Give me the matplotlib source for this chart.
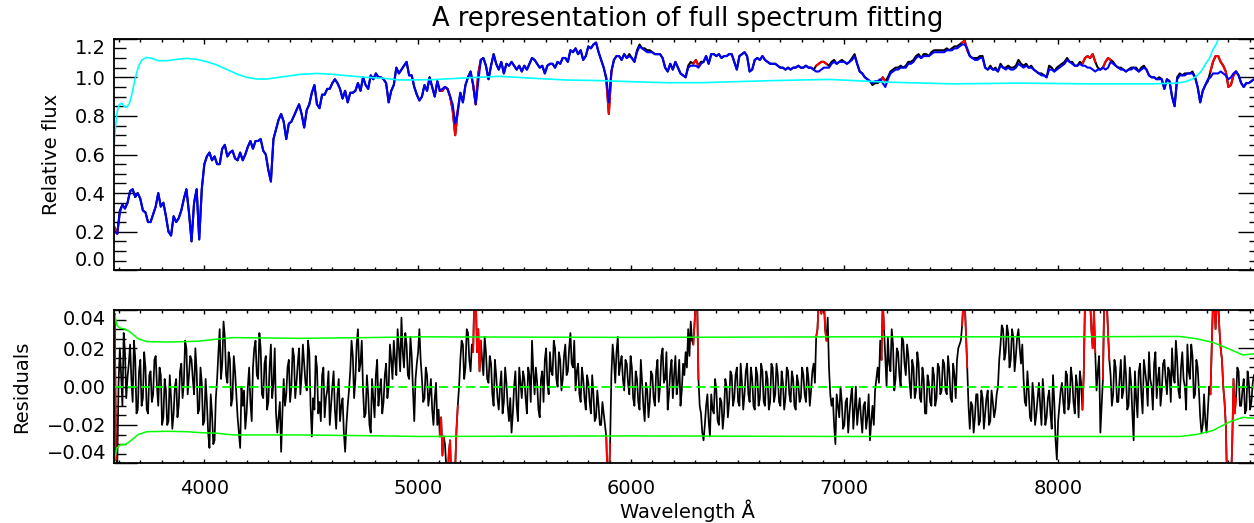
import numpy as np
import matplotlib
matplotlib.use("Agg")
from matplotlib import pyplot as plt
from matplotlib.ticker import MultipleLocator

# spectrum, model and residuals sampled on a 12 A grid starting at 3580 A
wave_start = 3580
wave_step = 12

flux = [
    0.22, 0.19, 0.31, 0.34, 0.32, 0.35, 0.41, 0.42, 0.38, 0.40,
    0.37, 0.31, 0.30, 0.25, 0.25, 0.29, 0.33, 0.40, 0.33, 0.35,
    0.28, 0.20, 0.18, 0.28, 0.25, 0.27, 0.31, 0.37, 0.42, 0.30,
    0.15, 0.35, 0.42, 0.16, 0.42, 0.55, 0.59, 0.61, 0.57, 0.59,
    0.55, 0.55, 0.63, 0.65, 0.59, 0.61, 0.62, 0.58, 0.57, 0.61,
    0.57, 0.60, 0.64, 0.67, 0.63, 0.67, 0.67, 0.68, 0.62, 0.60,
    0.52, 0.46, 0.68, 0.73, 0.78, 0.81, 0.77, 0.68, 0.76, 0.77,
    0.80, 0.83, 0.86, 0.81, 0.74, 0.83, 0.86, 0.92, 0.96, 0.86,
    0.84, 0.91, 0.91, 0.94, 0.94, 0.97, 0.99, 0.97, 0.94, 0.89,
    0.93, 0.87, 0.92, 0.92, 0.93, 0.97, 0.93, 1.00, 0.96, 0.94,
    1.01, 0.99, 1.02, 1.00, 1.00, 0.99, 0.97, 0.87, 0.93, 0.96,
    1.05, 1.02, 1.04, 1.06, 1.08, 1.01, 1.01, 0.95, 0.91, 0.88,
    0.90, 0.96, 0.93, 1.00, 0.95, 0.90, 0.98, 0.93, 0.93, 0.95,
    0.94, 0.90, 0.83, 0.70, 0.83, 0.92, 0.87, 0.96, 1.00, 1.03,
    0.96, 0.86, 1.02, 1.09, 1.10, 1.06, 0.99, 1.06, 1.12, 1.07,
    1.04, 1.08, 1.02, 1.07, 1.06, 1.08, 1.06, 1.04, 1.06, 1.03,
    1.06, 1.04, 1.07, 1.10, 1.09, 1.07, 1.05, 1.06, 1.02, 1.06,
    1.07, 1.07, 1.05, 1.08, 1.07, 1.10, 1.10, 1.08, 1.14, 1.13,
    1.15, 1.12, 1.14, 1.09, 1.11, 1.16, 1.15, 1.17, 1.18, 1.13,
    1.09, 1.05, 0.99, 0.81, 1.03, 1.09, 1.11, 1.11, 1.09, 1.12,
    1.10, 1.12, 1.10, 1.08, 1.14, 1.17, 1.15, 1.15, 1.14, 1.14,
    1.13, 1.12, 1.12, 1.12, 1.10, 1.05, 1.03, 1.07, 1.04, 1.08,
    1.05, 1.02, 1.01, 1.00, 1.06, 1.08, 1.07, 1.09, 1.06, 1.08,
    1.08, 1.11, 1.07, 1.12, 1.12, 1.11, 1.12, 1.10, 1.11, 1.11,
    1.12, 1.12, 1.08, 1.04, 1.11, 1.12, 1.13, 1.11, 1.03, 1.04,
    1.09, 1.10, 1.09, 1.11, 1.09, 1.08, 1.07, 1.07, 1.07, 1.06,
    1.05, 1.05, 1.04, 1.05, 1.04, 1.05, 1.05, 1.06, 1.05, 1.05,
    1.06, 1.05, 1.05, 1.04, 1.06, 1.07, 1.08, 1.08, 1.07, 1.06,
    1.08, 1.09, 1.07, 1.08, 1.09, 1.08, 1.07, 1.08, 1.10, 1.12,
    1.07, 1.03, 1.02, 1.00, 0.99, 0.98, 0.96, 0.97, 0.97, 0.98,
    1.00, 0.98, 1.00, 1.03, 1.04, 1.05, 1.05, 1.06, 1.05, 1.06,
    1.08, 1.08, 1.09, 1.11, 1.12, 1.10, 1.12, 1.12, 1.11, 1.13,
    1.14, 1.14, 1.14, 1.14, 1.14, 1.15, 1.14, 1.15, 1.16, 1.16,
    1.17, 1.18, 1.19, 1.14, 1.11, 1.10, 1.10, 1.10, 1.11, 1.11,
    1.05, 1.04, 1.06, 1.04, 1.05, 1.03, 1.07, 1.05, 1.05, 1.06,
    1.05, 1.05, 1.06, 1.09, 1.07, 1.06, 1.07, 1.05, 1.06, 1.04,
    1.03, 1.02, 1.02, 1.01, 1.00, 1.06, 1.05, 1.03, 1.05, 1.06,
    1.07, 1.08, 1.10, 1.08, 1.08, 1.06, 1.06, 1.08, 1.07, 1.10,
    1.11, 1.10, 1.12, 1.08, 1.05, 1.04, 1.05, 1.08, 1.10, 1.09,
    1.08, 1.06, 1.05, 1.05, 1.04, 1.03, 1.04, 1.05, 1.05, 1.05,
    1.03, 1.05, 1.06, 1.04, 1.01, 1.00, 1.00, 0.99, 1.00, 0.99,
    0.94, 0.99, 0.98, 0.90, 0.85, 1.00, 1.02, 1.01, 1.02, 1.02,
    1.02, 1.03, 1.00, 0.95, 0.87, 0.93, 0.96, 0.98, 1.03, 1.08,
    1.11, 1.11, 1.08, 1.06, 1.03, 0.95, 0.96, 1.01, 1.03, 1.01,
    0.97, 0.95, 0.97, 0.97, 0.98, 0.99,
]

model = [
    0.20, 0.19, 0.30, 0.34, 0.32, 0.35, 0.41, 0.42, 0.38, 0.40,
    0.37, 0.31, 0.30, 0.25, 0.25, 0.29, 0.33, 0.40, 0.33, 0.35,
    0.28, 0.20, 0.18, 0.28, 0.25, 0.27, 0.31, 0.37, 0.42, 0.30,
    0.15, 0.35, 0.42, 0.16, 0.42, 0.55, 0.59, 0.61, 0.57, 0.59,
    0.55, 0.55, 0.63, 0.65, 0.59, 0.61, 0.62, 0.58, 0.57, 0.61,
    0.57, 0.60, 0.64, 0.67, 0.63, 0.67, 0.67, 0.68, 0.62, 0.60,
    0.52, 0.46, 0.68, 0.73, 0.78, 0.81, 0.77, 0.68, 0.76, 0.77,
    0.80, 0.83, 0.86, 0.81, 0.74, 0.83, 0.86, 0.92, 0.96, 0.86,
    0.84, 0.91, 0.91, 0.94, 0.94, 0.97, 0.99, 0.97, 0.94, 0.89,
    0.93, 0.87, 0.92, 0.92, 0.93, 0.97, 0.93, 1.00, 0.96, 0.94,
    1.01, 0.99, 1.02, 1.00, 1.00, 0.99, 0.97, 0.87, 0.93, 0.96,
    1.05, 1.02, 1.04, 1.06, 1.08, 1.01, 1.01, 0.95, 0.91, 0.88,
    0.90, 0.96, 0.93, 1.00, 0.95, 0.90, 0.98, 0.93, 0.94, 0.95,
    0.94, 0.90, 0.86, 0.76, 0.82, 0.92, 0.87, 0.96, 1.00, 1.03,
    0.96, 0.86, 0.98, 1.09, 1.10, 1.06, 0.99, 1.06, 1.12, 1.07,
    1.04, 1.08, 1.02, 1.07, 1.06, 1.08, 1.06, 1.04, 1.06, 1.03,
    1.06, 1.04, 1.07, 1.10, 1.09, 1.07, 1.05, 1.06, 1.02, 1.06,
    1.07, 1.07, 1.05, 1.08, 1.07, 1.10, 1.10, 1.08, 1.14, 1.13,
    1.15, 1.12, 1.14, 1.09, 1.11, 1.16, 1.15, 1.17, 1.18, 1.13,
    1.09, 1.05, 1.00, 0.87, 1.03, 1.09, 1.11, 1.11, 1.09, 1.12,
    1.10, 1.11, 1.10, 1.08, 1.13, 1.16, 1.15, 1.14, 1.13, 1.13,
    1.13, 1.12, 1.12, 1.12, 1.10, 1.05, 1.03, 1.07, 1.04, 1.08,
    1.05, 1.02, 1.01, 1.00, 1.05, 1.06, 1.06, 1.06, 1.05, 1.07,
    1.08, 1.11, 1.07, 1.12, 1.12, 1.11, 1.12, 1.10, 1.11, 1.11,
    1.12, 1.12, 1.08, 1.04, 1.11, 1.12, 1.13, 1.11, 1.03, 1.04,
    1.09, 1.10, 1.09, 1.11, 1.09, 1.08, 1.07, 1.07, 1.07, 1.06,
    1.05, 1.05, 1.04, 1.05, 1.04, 1.05, 1.05, 1.06, 1.05, 1.05,
    1.06, 1.05, 1.05, 1.04, 1.03, 1.03, 1.04, 1.05, 1.05, 1.05,
    1.07, 1.08, 1.07, 1.08, 1.08, 1.08, 1.07, 1.08, 1.09, 1.11,
    1.07, 1.03, 1.02, 1.00, 0.99, 0.98, 0.97, 0.98, 0.98, 0.99,
    0.97, 0.95, 0.99, 1.02, 1.03, 1.04, 1.04, 1.05, 1.05, 1.05,
    1.07, 1.07, 1.08, 1.10, 1.11, 1.10, 1.11, 1.11, 1.11, 1.12,
    1.13, 1.13, 1.13, 1.13, 1.13, 1.14, 1.14, 1.14, 1.15, 1.15,
    1.16, 1.17, 1.17, 1.15, 1.11, 1.10, 1.09, 1.09, 1.10, 1.10,
    1.05, 1.04, 1.05, 1.04, 1.04, 1.03, 1.06, 1.05, 1.04, 1.05,
    1.04, 1.04, 1.05, 1.07, 1.06, 1.05, 1.06, 1.05, 1.05, 1.04,
    1.03, 1.02, 1.01, 1.01, 1.00, 1.04, 1.04, 1.03, 1.04, 1.05,
    1.06, 1.07, 1.09, 1.08, 1.07, 1.06, 1.06, 1.07, 1.06, 1.06,
    1.05, 1.05, 1.04, 1.03, 1.04, 1.04, 1.05, 1.04, 1.05, 1.08,
    1.07, 1.06, 1.05, 1.04, 1.04, 1.03, 1.04, 1.04, 1.05, 1.04,
    1.03, 1.04, 1.05, 1.04, 1.01, 1.00, 1.00, 0.99, 0.99, 0.99,
    0.94, 0.99, 0.98, 0.90, 0.85, 0.99, 1.01, 1.01, 1.01, 1.02,
    1.02, 1.02, 1.00, 0.95, 0.87, 0.93, 0.96, 0.99, 1.00, 1.02,
    1.02, 1.02, 1.03, 1.02, 1.01, 0.99, 1.00, 1.02, 1.03, 1.01,
    0.97, 0.95, 0.97, 0.97, 0.98, 0.99,
]

# residuals in units of 1e-3, on the 12 A grid (3580, 3592, ...)
resid_milli = [
    38, -40, 20, -10, 18, 5, 22, -8, 15, -12,
    14, -6, 10, -14, 8, -4, 16, -10, 6, -16,
    -2, -18, -6, -14, 4, -10, 12, 2, 20, 6,
    14, -4, 8, -12, 2, -18, -8, -32, -14, -28,
    4, 30, 12, 26, 2, 14, -6, 8, -16, -32,
    -10, -22, 0, -8, 10, 24, 4, 20, -6, 16,
    -8, 22, 2, -14, -16, -34, 4, -4, 14, 0,
    16, 2, 20, 6, 12, -2, 18, -26, -12, 10,
    -8, 6, -16, -2, -20, 0, -12, -4, -18, -6,
    -34, -10, 8, 16, 4, 30, 12, -2, -14, -4,
    -24, -6, 6, -10, 4, -8, 12, 0, 14, 24,
    6, 20, 36, 10, 22, 4, 16, -18, 12, 30,
    4, -6, 6, -4, -12, -6, -20, -26, -36, -30,
    -50, -28, -48, -42, -10, 14, 22, 10, 28, 8,
    18, 50, 30, 24, 6, 18, 2, 12, -10, 6,
    -12, 8, -8, 2, -18, -24, 0, -10, 10, -6,
    4, -14, 6, 24, -4, 2, -16, 8, 14, 2,
    18, 6, 20, 0, 14, 4, 22, 8, 28, 10,
    -2, 12, -8, 4, -12, 2, -14, -4, -16, -10,
    -20, -14, -26, -50, 6, 14, 18, 6, 16, -2,
    12, -4, 10, -10, 4, -12, 2, -18, -2, -8,
    6, -10, 14, 0, 20, 4, -12, 8, -6, 16,
    2, -10, 12, 18, 30, 34, 22, 45, 4, -14,
    -28, -10, -18, -4, -14, -2, -20, -8, -14, 0,
    -8, 6, -6, 10, -10, 2, -4, 12, -8, 4,
    -12, 6, -6, 8, -10, 4, -8, 10, -4, 6,
    -10, 2, -6, 8, -8, 4, -12, 2, -6, 6,
    -8, 4, -2, 12, 26, 45, 38, 45, 24, 10,
    -10, -20, -4, -16, -8, -20, -6, -14, 0, -12,
    -20, -6, -24, -8, -16, -28, -10, -2, 10, 24,
    45, 16, 26, 8, 22, 4, 18, 0, 24, 6,
    16, -6, 10, -2, 12, -8, 4, -14, 2, -10,
    6, -6, 10, -2, 12, -4, 8, -8, 6, 14,
    22, 32, 45, 10, -22, -10, -16, -4, -18, -6,
    -14, -2, -18, -8, -12, 0, 22, 30, 18, 28,
    14, 26, 16, 30, 12, 4, -10, -2, -18, -6,
    -14, 2, -20, -6, -16, -2, -22, -8, -38, -10,
    2, -14, 6, -8, 4, -14, 0, 8, -12, 45,
    40, 45, 20, 18, 8, -24, 4, 45, 28, 6,
    -4, 10, -8, 14, -2, 6, -10, 2, -28, -6,
    8, -4, 14, 2, 18, 0, 12, -6, 10, -2,
    14, -4, 8, 20, 2, 14, -6, 18, 0, 22,
    4, 16, -4, 10, -16, -20, -18, -12, -4, 45,
    30, 45, 20, 0, -20, -50, -50, 4, -6, 8,
    -10, 4, -12, 2, -8, 6,
]

# residuals in units of 1e-3 between those samples (3586, 3598, ...)
resid_mid_milli = [
    -38, 2, 6, 28, -6, 12, 4, 24, -14, 8,
    -10, 18, -12, 6, -8, 14, 0, 10, -20, 4,
    -20, 6, -22, 0, -16, 8, -6, 24, -4, 16,
    4, 20, -14, 10, -20, 4, -24, -4, -30, -6,
    18, 4, 34, 6, 18, -10, 16, -4, -24, 0,
    -2, -14, 10, -18, 20, 6, 28, -4, 12, -12,
    10, -6, 20, -24, -8, -14, -10, 10, -8, 20,
    -6, 12, -4, 22, 2, 24, -10, -6, 16, -14,
    -18, 10, -6, 8, -10, 8, -22, 4, -10, -24,
    -20, -2, 24, -6, 22, 8, 24, -16, 6, -20,
    4, -16, 14, -2, -14, 6, -6, 22, 4, 14,
    30, 8, 18, 28, 6, 26, -2, 4, 18, 14,
    -8, 10, -10, 4, -20, 2, -12, -16, -26, -42,
    -34, -50, -50, -22, 0, 24, 4, 30, 14, 22,
    50, 18, 8, 14, 26, 4, 16, -4, 14, -6,
    0, -14, 10, -10, -6, -14, 8, -18, 2, 8,
    -6, 10, -8, 8, 10, -12, 4, -8, 20, -4,
    8, 24, 4, 18, -2, 16, 6, 20, 12, 24,
    8, -4, 10, -6, 6, -8, 6, -18, -2, -20,
    -8, -20, -50, -30, 22, 2, 26, 12, 4, 14,
    2, 16, -6, 8, -8, 14, -10, 2, -16, 8,
    -6, 8, -8, 16, 2, 18, -4, 14, 6, -4,
    14, -2, 6, 10, 16, 24, 34, 45, -10, -24,
    -20, -4, -26, -12, 4, -18, -6, -22, 4, -16,
    8, -10, 6, -8, 12, -12, 8, -4, 10, -10,
    10, -10, 12, -8, 8, -12, 12, -8, 12, -8,
    8, -12, 10, -4, 8, -10, 6, -8, 10, -4,
    10, -10, 8, 2, 30, 45, 45, 30, 36, -4,
    -6, -30, -10, 0, -22, -8, -24, -6, -22, 0,
    -12, -16, -10, -22, -4, -18, -20, 4, 2, 14,
    30, 0, 12, 30, -2, 20, 6, 26, 12, 22,
    2, 14, -6, 18, -6, 10, -14, 6, -8, 10,
    -10, 12, -4, 14, -2, 16, -6, 12, -6, 20,
    24, 45, 28, -10, -8, -24, -4, -20, -2, -22,
    -6, -20, -2, -16, -4, 14, 32, 14, 32, 10,
    30, 8, 26, 20, 22, -8, 8, -16, 2, -20,
    -6, -10, 4, -20, -6, -14, 6, -28, -18, -2,
    -8, 8, -12, 10, -8, 6, -16, 2, 6, 45,
    45, 30, 40, -2, 16, -10, 45, 45, 14, -10,
    14, -8, 4, -6, 16, -12, 10, -14, 8, -16,
    12, -14, 8, -10, 4, -12, 18, 4, -10, 12,
    4, 10, -8, 6, 24, -2, 10, 4, -12, 8,
    22, -6, 14, -2, -24, -4, -24, 0, 20, 45,
    45, 30, 14, -8, -50, -50, -30, -14, 10, -10,
    -2, -14, 8, -12, 2,
]

# wavelength ranges left out of the fit (drawn red)
masked = [(3575, 3585), (5110, 5120), (5135, 5145), (5155, 5182),
          (5264, 5290), (5890, 5900), (6298, 6310), (6874, 6910),
          (7175, 7185), (7558, 7570), (8122, 8170), (8218, 8240),
          (8722, 8830)]

# multiplicative polynomial (cyan)
cyan_wave = [3578, 3585, 3593, 3602, 3613, 3624, 3636, 3649, 3660, 3675,
             3691, 3707, 3730, 3754, 3785, 3824, 3871, 3917, 3964, 4011,
             4058, 4105, 4152, 4199, 4245, 4292, 4370, 4448, 4526, 4604,
             4682, 4760, 4838, 4917, 5073, 5229, 5385, 5541, 5697, 5853,
             6009, 6166, 6322, 6478, 6634, 6790, 6931, 7196, 7508, 7821,
             8133, 8445, 8560, 8601, 8630, 8648, 8672, 8695, 8712, 8726,
             8742, 8757, 8773, 8790]
cyan_vals = [0.66, 0.76, 0.83, 0.86, 0.865, 0.85, 0.845, 0.865, 0.91, 0.99,
             1.055, 1.09, 1.103, 1.098, 1.086, 1.086, 1.093, 1.098, 1.093, 1.081,
             1.064, 1.041, 1.017, 1.000, 0.991, 0.991, 1.003, 1.015, 1.020, 1.015,
             1.007, 1.000, 0.995, 0.986, 0.988, 0.997, 1.005, 0.995, 0.986, 0.983,
             0.977, 0.972, 0.972, 0.977, 0.982, 0.986, 0.989, 0.975, 0.966, 0.970,
             0.966, 0.966, 0.970, 0.978, 0.990, 1.004, 1.030, 1.073, 1.100, 1.140,
             1.170, 1.210, 1.240, 1.300]

# noise envelope (green)
noise_wave = [3578, 3590, 3605, 3630, 3652, 3690, 3730, 3824, 3917, 3980,
              4058, 4136, 4448, 4760, 5010, 6000, 7000, 8000, 8571, 8650,
              8727, 8805, 8868, 8953]
noise_hi = [0.039, 0.032, 0.0306, 0.030, 0.0285, 0.025, 0.0235, 0.0233, 0.0235, 0.0238,
            0.0248, 0.0256, 0.0252, 0.0256, 0.026, 0.0257, 0.026, 0.026, 0.0262, 0.025,
            0.0231, 0.0196, 0.0165, 0.0176]
noise_lo = [-0.039, -0.032, -0.0304, -0.0302, -0.0285, -0.025, -0.0235, -0.0233, -0.0235, -0.024,
            -0.0243, -0.0252, -0.0252, -0.0256, -0.026, -0.0257, -0.026, -0.026, -0.026, -0.025,
            -0.0229, -0.0184, -0.016, -0.0168]

flux_ticks = [0.0, 0.2, 0.4, 0.6, 0.8, 1.0, 1.2]
flux_ticklabels = ["0.0", "0.2", "0.4", "0.6", "0.8", "1.0", "1.2"]
res_ticks = [-0.04, -0.02, 0.0, 0.02, 0.04]
res_ticklabels = ["\u22120.04", "\u22120.02", "0.00", "0.02", "0.04"]
wave_ticks = [4000, 5000, 6000, 7000, 8000]
wave_ticklabels = ["4000", "5000", "6000", "7000", "8000"]


def grid(values, offset=0):
    return wave_start + offset + wave_step * np.arange(len(values))


def red_part(w, v):
    m = np.zeros(len(w), bool)
    for lo, hi in masked:
        m |= (w >= lo) & (w <= hi)
    # keep the segments leading into and out of a masked pixel
    m2 = m.copy()
    m2[1:] |= m[:-1]
    m2[:-1] |= m[1:]
    return np.where(m2, v, np.nan)


flux = np.array(flux)
model = np.array(model)
wf, wm = grid(flux), grid(model)

# merge the two residual samplings into one 6 A series
wr = np.concatenate([grid(resid_milli), grid(resid_mid_milli, wave_step // 2)])
resid = np.concatenate([resid_milli, resid_mid_milli]) / 1000.0
order = np.argsort(wr)
wr, resid = wr[order], resid[order]

fig = plt.figure(figsize=(12.54, 5.23), dpi=100)
ax1 = fig.add_axes([0.09115, 0.48317, 0.91444, 0.44283])
ax2 = fig.add_axes([0.09115, 0.11415, 0.91444, 0.29312])

ax1.plot(wf, flux, color="black", lw=1.5)
ax1.plot(wf, red_part(wf, flux), color="red", lw=1.5)
ax1.plot(wm, model, color="#0000ff", lw=1.5)
ax1.plot(cyan_wave, cyan_vals, color="#00ffff", lw=1.2)

ax2.plot(wr, resid, color="black", lw=1.25)
ax2.plot(wr, red_part(wr, resid), color="red", lw=1.25)
ax2.axhline(0, color="#00ff00", lw=1.3, dashes=(5, 2.5))
ax2.plot(noise_wave, noise_hi, color="#00ff00", lw=1.1)
ax2.plot(noise_wave, noise_lo, color="#00ff00", lw=1.1)

for ax in (ax1, ax2):
    ax.set_xlim(3578, 8953)
    ax.set_xticks(wave_ticks)
    ax.xaxis.set_minor_locator(MultipleLocator(100))
    ax.tick_params(which="both", direction="in", top=True, right=True,
                   width=1.0, labelsize=14, colors="black")
    ax.tick_params(axis="y", which="major", length=16.5, pad=6)
    ax.tick_params(axis="y", which="minor", length=8.3)
    for s in ax.spines.values():
        s.set_linewidth(1.3)

ax1.set_ylim(0, 1.2)
ax1.set_yticks(flux_ticks, labels=flux_ticklabels)
ax1.yaxis.set_minor_locator(MultipleLocator(0.05))
ax1.tick_params(axis="x", which="major", length=3.6, labelbottom=False)
ax1.tick_params(axis="x", which="minor", length=2.0)
ax1.set_ylabel("Relative flux", fontsize=14)
ax1.yaxis.set_label_coords(-0.0465, 0.5)
ax1.set_title("A representation of full spectrum fitting", fontsize=18.5, pad=8.8)

ax2.set_ylim(-0.04, 0.04)
ax2.set_yticks(res_ticks, labels=res_ticklabels)
ax2.set_xticks(wave_ticks, labels=wave_ticklabels)
ax2.yaxis.set_minor_locator(MultipleLocator(0.005))
ax2.tick_params(axis="x", which="major", length=3.0, pad=11)
ax2.tick_params(axis="x", which="minor", length=2.0)
ax2.set_ylabel("Residuals", fontsize=14)
ax2.yaxis.set_label_coords(-0.0725, 0.5)
ax2.set_xlabel("Wavelength \u00c5", fontsize=14)
ax2.xaxis.set_label_coords(0.5, -0.239)

# end labels sit inside the axis range
for ax in (ax1, ax2):
    ticks = ax.yaxis.get_major_ticks()
    ticks[0].label1.set_verticalalignment("bottom")
    ticks[-1].label1.set_verticalalignment("top")

fig.savefig("out.png", dpi=100)
